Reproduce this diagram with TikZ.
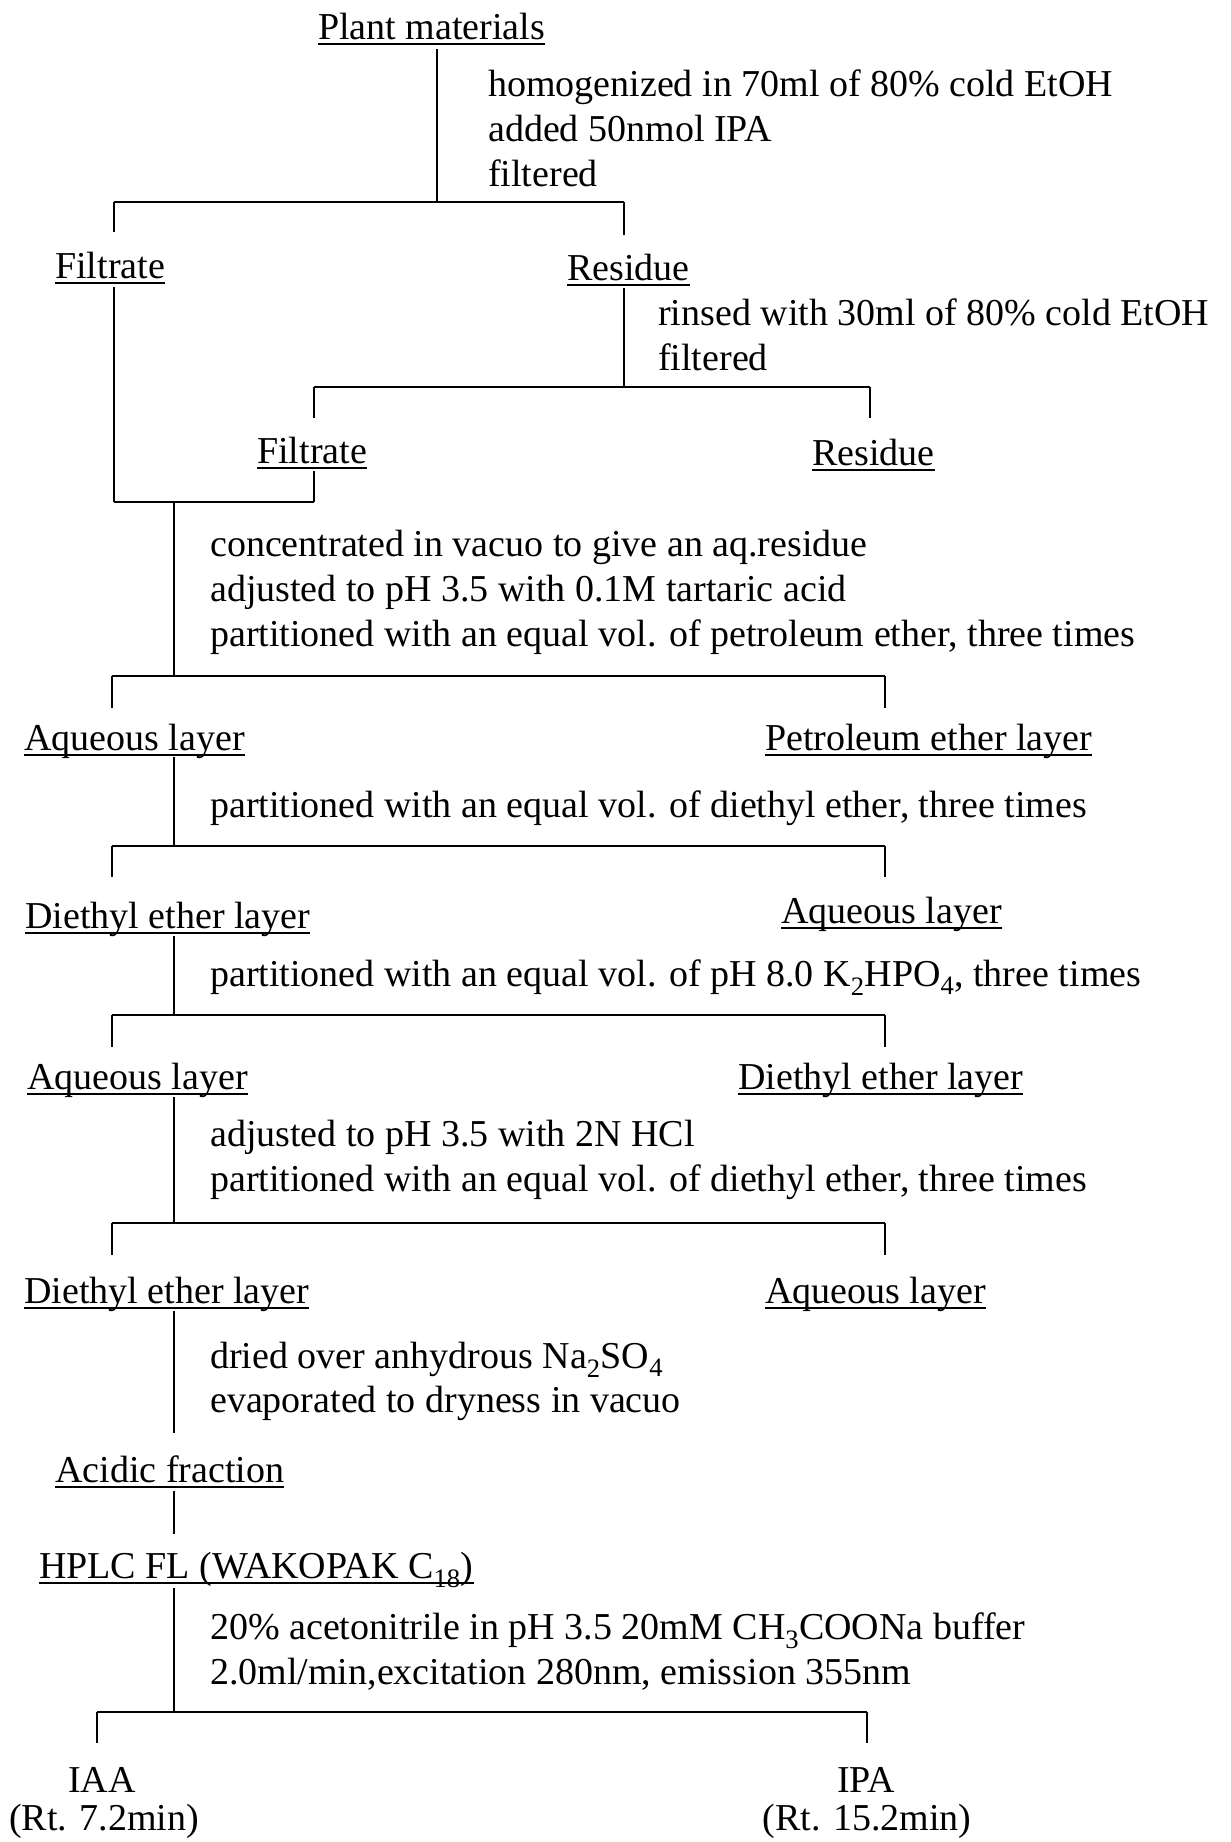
\documentclass[tikz,border=0pt]{standalone}
\usepackage{fontspec}
\setmainfont{Liberation Serif}
\begin{document}
\begin{tikzpicture}[x=1pt,y=-1pt,
  txt/.style={anchor=base west,inner sep=0pt,font=\fontsize{38}{45}\selectfont},
  ctxt/.style={anchor=base,inner sep=0pt,font=\fontsize{38}{45}\selectfont},
  vl/.style={line width=1.8pt},
  hl/.style={line width=2.5pt},
  ul/.style={line width=1.8pt}]
\useasboundingbox (0,0) rectangle (1231,1842);
\fill[white] (0,0) rectangle (1231,1842);
\newcommand{\uline}[1]{\draw[ul] ([yshift=-5pt]#1.base west) -- ([yshift=-5pt]#1.base east);}

% ---- labels
\node[txt] (pm) at (318,39) {Plant materials}; \uline{pm}
\node[txt] (f1) at (55,278) {Filtrate}; \uline{f1}
\node[txt] (r1) at (567,280) {Residue}; \uline{r1}
\node[txt] (f2) at (257,463) {Filtrate}; \uline{f2}
\node[txt] (r2) at (812,465) {Residue}; \uline{r2}
\node[txt] (aq1) at (24,750) {Aqueous layer}; \uline{aq1}
\node[txt] (pe) at (765,750) {Petroleum ether layer}; \uline{pe}
\node[txt] (de1) at (25,928) {Diethyl ether layer}; \uline{de1}
\node[txt] (aq2) at (781,923) {Aqueous layer}; \uline{aq2}
\node[txt] (aq3) at (27,1089) {Aqueous layer}; \uline{aq3}
\node[txt] (de2) at (738,1089) {Diethyl ether layer}; \uline{de2}
\node[txt] (de3) at (24,1303) {Diethyl ether layer}; \uline{de3}
\node[txt] (aq4) at (765,1303) {Aqueous layer}; \uline{aq4}
\node[txt] (ac) at (55,1482) {Acidic fraction}; \uline{ac}
\node[txt] (hp) at (39,1578) {HPLC FL (WAKOPAK C\textsubscript{18})}; \uline{hp}
\node[ctxt] (iaa) at (102,1792) {IAA};
\node[ctxt] (iaart) at (104,1830) {(Rt. 7.2min)};
\node[ctxt] (ipa) at (866,1792) {IPA};
\node[ctxt] (ipart) at (867,1830) {(Rt. 15.2min)};

% ---- process notes
\node[txt] (s1a) at (488,96) {homogenized in 70ml of 80\% cold EtOH};
\node[txt] (s1b) at (488,141) {added 50nmol IPA};
\node[txt] (s1c) at (488,186) {filtered};
\node[txt] (s2a) at (658,325) {rinsed with 30ml of 80\% cold EtOH};
\node[txt] (s2b) at (658,370) {filtered};
\node[txt] (s3a) at (210,556) {concentrated in vacuo to give an aq.residue};
\node[txt] (s3b) at (210,601) {adjusted to pH 3.5 with 0.1M tartaric acid};
\node[txt] (s3c) at (210,646) {partitioned with an equal vol. of petroleum ether, three times};
\node[txt] (s4) at (210,817) {partitioned with an equal vol. of diethyl ether, three times};
\node[txt] (s5) at (210,986) {partitioned with an equal vol. of pH 8.0 K\textsubscript{2}HPO\textsubscript{4}, three times};
\node[txt] (s6a) at (210,1146) {adjusted to pH 3.5 with 2N HCl};
\node[txt] (s6b) at (210,1191) {partitioned with an equal vol. of diethyl ether, three times};
\node[txt] (s7a) at (210,1368) {dried over anhydrous Na\textsubscript{2}SO\textsubscript{4}};
\node[txt] (s7b) at (210,1412) {evaporated to dryness in vacuo};
\node[txt] (s8a) at (210,1639) {20\% acetonitrile in pH 3.5 20mM CH\textsubscript{3}COONa buffer};
\node[txt] (s8b) at (210,1684) {2.0ml/min,excitation 280nm, emission 355nm};

% ---- connector coordinates
\coordinate (a0) at (437,49);  \coordinate (a1) at (437,202);
\coordinate (b1l) at (114,202); \coordinate (b1r) at (624,202);
\coordinate (b1ld) at (114,232); \coordinate (b1rd) at (624,235);
\coordinate (r1t) at (624,288); \coordinate (r1b) at (624,387);
\coordinate (b2l) at (314,387); \coordinate (b2r) at (870,387);
\coordinate (b2ld) at (314,418); \coordinate (b2rd) at (870,418);
\coordinate (f1t) at (114,287); \coordinate (f1b) at (114,502);
\coordinate (f2t) at (314,471); \coordinate (f2b) at (314,502);
\coordinate (m0) at (174,502); \coordinate (m1) at (174,676);
\coordinate (b3l) at (112,676); \coordinate (b3r) at (885,676);
\coordinate (b3ld) at (112,708); \coordinate (b3rd) at (885,708);
\coordinate (m2) at (174,757); \coordinate (m3) at (174,846);
\coordinate (b4l) at (112,846); \coordinate (b4r) at (885,846);
\coordinate (b4ld) at (112,877); \coordinate (b4rd) at (885,877);
\coordinate (m4) at (174,936); \coordinate (m5) at (174,1015);
\coordinate (b5l) at (112,1015); \coordinate (b5r) at (885,1015);
\coordinate (b5ld) at (112,1047); \coordinate (b5rd) at (885,1047);
\coordinate (m6) at (174,1097); \coordinate (m7) at (174,1223);
\coordinate (b6l) at (112,1223); \coordinate (b6r) at (885,1223);
\coordinate (b6ld) at (112,1255); \coordinate (b6rd) at (885,1255);
\coordinate (m8) at (174,1311); \coordinate (m9) at (174,1433);
\coordinate (m10) at (174,1491); \coordinate (m11) at (174,1534);
\coordinate (m12) at (174,1588); \coordinate (m13) at (174,1712);
\coordinate (b7l) at (97,1712); \coordinate (b7r) at (867,1712);
\coordinate (b7ld) at (97,1743); \coordinate (b7rd) at (867,1743);

% ---- connectors
\draw[vl] (a0) -- (a1);
\draw[hl] (b1l) -- (b1r);
\draw[vl] (b1l) -- (b1ld); \draw[vl] (b1r) -- (b1rd);
\draw[vl] (r1t) -- (r1b);
\draw[hl] (b2l) -- (b2r);
\draw[vl] (b2l) -- (b2ld); \draw[vl] (b2r) -- (b2rd);
\draw[vl] (f1t) -- (f1b); \draw[vl] (f2t) -- (f2b);
\draw[hl] (f1b) -- (f2b);
\draw[vl] (m0) -- (m1);
\draw[hl] (b3l) -- (b3r);
\draw[vl] (b3l) -- (b3ld); \draw[vl] (b3r) -- (b3rd);
\draw[vl] (m2) -- (m3);
\draw[hl] (b4l) -- (b4r);
\draw[vl] (b4l) -- (b4ld); \draw[vl] (b4r) -- (b4rd);
\draw[vl] (m4) -- (m5);
\draw[hl] (b5l) -- (b5r);
\draw[vl] (b5l) -- (b5ld); \draw[vl] (b5r) -- (b5rd);
\draw[vl] (m6) -- (m7);
\draw[hl] (b6l) -- (b6r);
\draw[vl] (b6l) -- (b6ld); \draw[vl] (b6r) -- (b6rd);
\draw[vl] (m8) -- (m9);
\draw[vl] (m10) -- (m11);
\draw[vl] (m12) -- (m13);
\draw[hl] (b7l) -- (b7r);
\draw[vl] (b7l) -- (b7ld); \draw[vl] (b7r) -- (b7rd);
\end{tikzpicture}
\end{document}
